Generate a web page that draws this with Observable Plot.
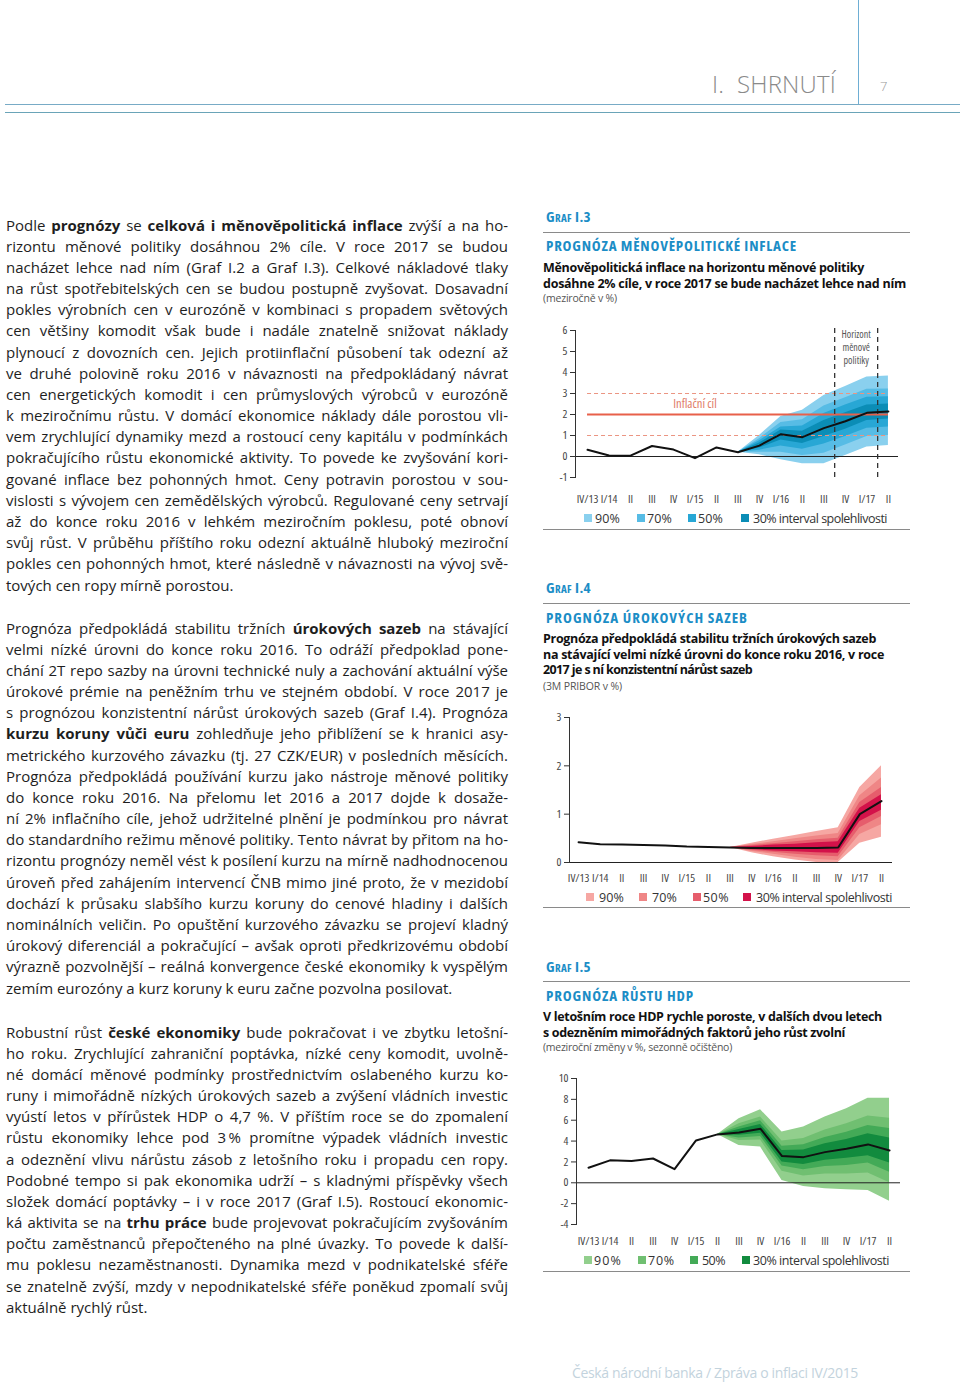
<!DOCTYPE html>
<html lang="cs">
<head>
<meta charset="utf-8">
<script src="https://cdn.jsdelivr.net/npm/d3@7"></script>
<script src="https://cdn.jsdelivr.net/npm/@observablehq/plot@0.6"></script>
<style>
html,body{margin:0;padding:0;background:#fff}
body{width:960px;height:1382px;position:relative;overflow:hidden;font-family:"Open Sans",sans-serif;color:#222}
.t{position:absolute;white-space:nowrap;line-height:1.2;transform:translateY(-50%)}
.line{position:absolute;left:6px;height:21px;line-height:21px;font-size:15px;white-space:nowrap;color:#1e1e1e}
.line b{font-weight:700}
.hr{position:absolute;height:0}
.chart{position:absolute}
.sq{position:absolute;width:8px;height:8px;transform:translateY(-50%)}
</style>
</head>
<body>
<script>
// ---------- DATA ----------
const quarters = ["IV/13","I/14","II","III","IV","I/15","II","III","IV","I/16","II","III","IV","I/17","II"];
const bandLabels = ["90%","70%","50%","30% interval spolehlivosti"];

// Graf I.3 – měnověpolitická inflace
const inflLine = [0.32,0.05,0.04,0.50,0.33,-0.08,0.43,0.20,0.52,1.06,0.92,1.35,1.68,2.08,2.14];
const inflFanX = [7,8,9,10,11,12,13,14];
const inflLo90 = [0.20,0.08,-0.15,-0.35,-0.35,0.05,0.45,0.52];
const inflHi90 = [0.20,1.00,1.90,2.20,2.90,3.33,3.78,3.83];
const inflLo70 = [0.20,0.20,0.20,0.05,0.15,0.55,0.95,1.00];
const inflHi70 = [0.20,0.85,1.62,1.75,2.40,2.80,3.20,3.22];
const inflLo50 = [0.20,0.30,0.50,0.35,0.60,0.95,1.35,1.40];
const inflHi50 = [0.20,0.75,1.40,1.45,2.05,2.45,2.82,2.85];
const inflLo30 = [0.20,0.40,0.78,0.62,0.95,1.30,1.72,1.78];
const inflHi30 = [0.20,0.64,1.26,1.20,1.72,2.08,2.45,2.50];
const inflTarget = [2];
const inflTolerance = [1,3];
const inflHorizon = [11.5,13.5];
const inflTicks = [-1,0,1,2,3,4,5,6];

// Graf I.4 – úrokové sazby (3M PRIBOR)
const rateLine = [0.42,0.38,0.37,0.36,0.35,0.33,0.32,0.31,0.30,0.30,0.30,0.30,0.31,1.00,1.27];
const rateFanX = [7,8,9,10,11,12,13,14];
const rateLo90 = [0.31,0.20,0.12,0.05,0.00,0.00,0.40,0.52];
const rateHi90 = [0.31,0.40,0.48,0.56,0.64,0.72,1.55,2.00];
const rateLo70 = [0.31,0.23,0.17,0.11,0.06,0.04,0.58,0.78];
const rateHi70 = [0.31,0.37,0.43,0.49,0.55,0.60,1.38,1.75];
const rateLo50 = [0.31,0.25,0.21,0.17,0.14,0.12,0.72,0.95];
const rateHi50 = [0.31,0.35,0.39,0.43,0.47,0.50,1.24,1.55];
const rateLo30 = [0.31,0.27,0.24,0.22,0.20,0.19,0.85,1.08];
const rateHi30 = [0.31,0.33,0.36,0.38,0.41,0.43,1.12,1.40];
const rateTicks = [0,1,2,3];

// Graf I.5 – růst HDP
const gdpLine = [1.44,2.15,2.10,2.33,1.31,4.06,4.64,4.83,5.18,2.56,2.46,2.94,3.26,3.68,3.10];
const gdpFanX = [6,7,8,9,10,11,12,13,14];
const gdpLo90 = [4.64,3.58,3.42,0.22,-0.35,-0.58,-0.67,-0.74,-1.76];
const gdpHi90 = [4.64,6.14,7.00,4.86,5.34,6.30,7.10,8.10,8.10];
const gdpLo70 = [4.64,4.05,4.10,1.10,0.65,0.85,0.85,0.95,0.00];
const gdpHi70 = [4.64,5.65,6.30,4.00,4.25,5.05,5.65,6.40,6.20];
const gdpLo50 = [4.64,4.30,4.45,1.60,1.25,1.55,1.65,1.90,1.00];
const gdpHi50 = [4.64,5.35,5.95,3.50,3.65,4.35,4.85,5.50,5.20];
const gdpLo30 = [4.64,4.55,4.75,2.00,1.75,2.15,2.35,2.60,1.90];
const gdpHi30 = [4.64,5.10,5.60,3.10,3.15,3.75,4.15,4.70,4.30];
const gdpTicks = [-4,-2,0,2,4,6,8,10];

// ---------- TEXTS ----------
const headerTitle = "I.&nbsp; SHRNUTÍ";
const pageNumber = "7";
const footerText = "Česká národní banka / Zpráva o inflaci IV/2015";

const chartNumbers = ["Graf I.3","Graf I.4","Graf I.5"];
const chartTitles = ["PROGNÓZA MĚNOVĚPOLITICKÉ INFLACE","PROGNÓZA ÚROKOVÝCH SAZEB","PROGNÓZA RŮSTU HDP"];
const chartSubtitles = [
  ["Měnověpolitická inflace na horizontu měnové politiky","dosáhne 2% cíle, v roce 2017 se bude nacházet lehce nad ním"],
  ["Prognóza předpokládá stabilitu tržních úrokových sazeb","na stávající velmi nízké úrovni do konce roku 2016, v roce","2017 je s ní konzistentní nárůst sazeb"],
  ["V letošním roce HDP rychle poroste, v dalších dvou letech","s odezněním mimořádných faktorů jeho růst zvolní"]
];
const chartUnits = ["(meziročně v %)","(3M PRIBOR v %)","(meziroční změny v %, sezonně očištěno)"];

const para1 = [
"Podle <b>prognózy</b> se <b>celková i měnověpolitická inflace</b> zvýší a na ho-",
"rizontu měnové politiky dosáhnou 2% cíle. V roce 2017 se budou",
"nacházet lehce nad ním (Graf I.2 a Graf I.3). Celkové nákladové tlaky",
"na růst spotřebitelských cen se budou postupně zvyšovat. Dosavadní",
"pokles výrobních cen v eurozóně v kombinaci s propadem světových",
"cen většiny komodit však bude i nadále znatelně snižovat náklady",
"plynoucí z dovozních cen. Jejich protiinflační působení tak odezní až",
"ve druhé polovině roku 2016 v návaznosti na předpokládaný návrat",
"cen energetických komodit i cen průmyslových výrobců v eurozóně",
"k meziročnímu růstu. V domácí ekonomice náklady dále porostou vli-",
"vem zrychlující dynamiky mezd a rostoucí ceny kapitálu v podmínkách",
"pokračujícího růstu ekonomické aktivity. To povede ke zvyšování kori-",
"gované inflace bez pohonných hmot. Ceny potravin porostou v sou-",
"vislosti s vývojem cen zemědělských výrobců. Regulované ceny setrvají",
"až do konce roku 2016 v lehkém meziročním poklesu, poté obnoví",
"svůj růst. V průběhu příštího roku odezní aktuálně hluboký meziroční",
"pokles cen pohonných hmot, které následně v návaznosti na vývoj svě-",
"tových cen ropy mírně porostou."
];
const para2 = [
"Prognóza předpokládá stabilitu tržních <b>úrokových sazeb</b> na stávající",
"velmi nízké úrovni do konce roku 2016. To odráží předpoklad pone-",
"chání 2T repo sazby na úrovni technické nuly a zachování aktuální výše",
"úrokové prémie na peněžním trhu ve stejném období. V roce 2017 je",
"s prognózou konzistentní nárůst úrokových sazeb (Graf I.4). Prognóza",
"<b>kurzu koruny vůči euru</b> zohledňuje jeho přiblížení se k hranici asy-",
"metrického kurzového závazku (tj. 27 CZK/EUR) v posledních měsících.",
"Prognóza předpokládá používání kurzu jako nástroje měnové politiky",
"do konce roku 2016. Na přelomu let 2016 a 2017 dojde k dosaže-",
"ní 2% inflačního cíle, jehož udržitelné plnění je podmínkou pro návrat",
"do standardního režimu měnové politiky. Tento návrat by přitom na ho-",
"rizontu prognózy neměl vést k posílení kurzu na mírně nadhodnocenou",
"úroveň před zahájením intervencí ČNB mimo jiné proto, že v mezidobí",
"dochází k průsaku slabšího kurzu koruny do cenové hladiny i dalších",
"nominálních veličin. Po opuštění kurzového závazku se projeví kladný",
"úrokový diferenciál a pokračující – avšak oproti předkrizovému období",
"výrazně pozvolnější – reálná konvergence české ekonomiky k vyspělým",
"zemím eurozóny a kurz koruny k euru začne pozvolna posilovat."
];
const para3 = [
"Robustní růst <b>české ekonomiky</b> bude pokračovat i ve zbytku letošní-",
"ho roku. Zrychlující zahraniční poptávka, nízké ceny komodit, uvolně-",
"né domácí měnové podmínky prostřednictvím oslabeného kurzu ko-",
"runy i mimořádně nízkých úrokových sazeb a zvýšení vládních investic",
"vyústí letos v přírůstek HDP o 4,7 %. V příštím roce se do zpomalení",
"růstu ekonomiky lehce pod 3\u2009% promítne výpadek vládních investic",
"a odeznění vlivu nárůstu zásob z letošního roku i propadu cen ropy.",
"Podobné tempo si pak ekonomika udrží – s kladnými příspěvky všech",
"složek domácí poptávky – i v roce 2017 (Graf I.5). Rostoucí ekonomic-",
"ká aktivita se na <b>trhu práce</b> bude projevovat pokračujícím zvyšováním",
"počtu zaměstnanců přepočteného na plné úvazky. To povede k další-",
"mu poklesu nezaměstnanosti. Dynamika mezd v podnikatelské sféře",
"se znatelně zvýší, mzdy v nepodnikatelské sféře poněkud zpomalí svůj",
"aktuálně rychlý růst."
];

// ---------- COLOURS ----------
const inflColors = ["#8ad0ee","#57bce5","#28a7d5","#0b8db6"];
const rateColors = ["#f6a7a3","#ef8686","#e65d6c","#d3124a"];
const gdpColors  = ["#92cf8d","#70bf71","#43aa57","#128b3e"];
const headBlue = "#1b8dc6";

// ---------- HELPERS ----------
const body = document.body;
function addText(html, o) {
  const d = document.createElement("div");
  d.className = "t";
  d.innerHTML = html;
  d.style.left = o.x + "px";
  d.style.top = o.y + "px";
  d.style.fontSize = (o.size || 12) + "px";
  if (o.weight) d.style.fontWeight = o.weight;
  if (o.color) d.style.color = o.color;
  if (o.variant) d.style.fontVariant = o.variant;
  if (o.w) d.dataset.w = o.w;
  body.appendChild(d);
  return d;
}
function addRule(x1, x2, y, color, th) {
  const d = document.createElement("div");
  d.className = "hr";
  d.style.left = x1 + "px"; d.style.width = (x2 - x1) + "px";
  d.style.top = (y - th / 2) + "px";
  d.style.borderTop = th + "px solid " + color;
  body.appendChild(d);
}
function addVRule(x, y1, y2, color, th) {
  const d = document.createElement("div");
  d.style.position = "absolute";
  d.style.left = (x - th / 2) + "px"; d.style.top = y1 + "px";
  d.style.height = (y2 - y1) + "px"; d.style.borderLeft = th + "px solid " + color;
  body.appendChild(d);
}
function addParagraph(lines, y0, step) {
  lines.forEach((l, i) => {
    const d = document.createElement("div");
    d.className = "line";
    d.innerHTML = l;
    d.style.top = (y0 + i * step - 10.5) + "px";
    if (i < lines.length - 1) d.dataset.j = 502;
    body.appendChild(d);
  });
}

// ---------- HEADER / FOOTER ----------
addVRule(859, 0, 104, "#6eaed4", 1.5);
addRule(5, 960, 104.5, "#78abc6", 1.5);
addRule(5, 960, 113, "#6aa4b8", 1.5);
addText(headerTitle, {x: 712, y: 84, size: 24, weight: 300, color: "#8a8a8a", w: 124});
addText(pageNumber, {x: 880, y: 87, size: 13, weight: 300, color: "#999"});
addText(footerText, {x: 572, y: 1373, size: 14, color: "#c3d3dd", w: 286});

// ---------- BODY TEXT ----------
addParagraph(para1, 225, 21.18);
addParagraph(para2, 628, 21.18);
addParagraph(para3, 1032, 21.18);

// ---------- CHART HEADINGS ----------
const headLayout = [
  {num: 216, top: 233, title: 245, titleW: 251, subs: [267, 283], subW: [321, 363], unit: 298, unitW: 74, bottom: 530},
  {num: 587, top: 604, title: 617, titleW: 202, subs: [638, 654, 669], subW: [333, 341, 209], unit: 686, unitW: 79, bottom: 908},
  {num: 966, top: 982, title: 995, titleW: 148, subs: [1016, 1032], subW: [339, 302], unit: 1047, unitW: 189, bottom: 1272}
];
headLayout.forEach((h, k) => {
  addText(chartNumbers[k], {x: 546, y: h.num, size: 15, weight: 700, color: headBlue, variant: "small-caps", w: 45});
  addRule(543, 910, h.top, "#8a8a8a", 1.5);
  addText(chartTitles[k], {x: 546, y: h.title, size: 15, weight: 700, color: headBlue, w: h.titleW});
  chartSubtitles[k].forEach((s, i) => addText(s, {x: 543, y: h.subs[i], size: 12.5, weight: 700, color: "#111", w: h.subW[i]}));
  addText(chartUnits[k], {x: 543, y: h.unit, size: 10.5, color: "#555", w: h.unitW});
  addRule(543, 910, h.bottom, "#8a8a8a", 1.5);
});

// ---------- LEGENDS ----------
function addLegend(y, sqX, txX, txW, colors) {
  bandLabels.forEach((lab, i) => {
    const s = document.createElement("div");
    s.className = "sq";
    s.style.left = sqX[i] + "px"; s.style.top = y + "px"; s.style.background = colors[i];
    body.appendChild(s);
    addText(lab, {x: txX[i], y: y, size: 12.5, color: "#333", w: txW[i]});
  });
}
addLegend(518, [584, 637, 688, 741], [595, 647, 698, 753], [25, 25, 25, 134], inflColors);
addLegend(897, [586, 639, 693, 743], [599, 652, 703, 756], [25, 25, 26, 136], rateColors);
addLegend(1260, [584, 638, 690, 742], [594, 648, 702, 753], [28, 27, 23, 136], gdpColors);

// ---------- CHARTS ----------
function fanChart(o) {
  const bands = [[o.lo[0], o.hi[0]], [o.lo[1], o.hi[1]], [o.lo[2], o.hi[2]], [o.lo[3], o.hi[3]]];
  const areas = bands.map((b, k) => Plot.areaY(
    o.fanX.map((x, i) => ({x, lo: b[0][i], hi: b[1][i]})),
    {x: "x", y1: "lo", y2: "hi", fill: o.colors[k]}
  ));
  const plot = Plot.plot({
    width: o.width, height: o.height,
    marginTop: o.mt, marginRight: o.mr, marginBottom: o.mb, marginLeft: o.ml,
    x: {domain: o.xDomain, label: null},
    y: {domain: o.yDomain, label: null},
    style: {background: "none", fontFamily: "'Open Sans', sans-serif", fontSize: "11px", fontStretch: "85%", color: "#444", overflow: "visible"},
    marks: [
      ...areas,
      Plot.ruleY([0], {stroke: "#222", strokeWidth: 1}),
      ...(o.extras || []),
      Plot.lineY(o.line, {x: (d, i) => i, y: d => d, stroke: "#111", strokeWidth: 2, strokeLinejoin: "round"}),
      Plot.frame({anchor: "left", stroke: "#333", strokeWidth: 1}),
      Plot.axisY({ticks: o.yTicks, tickFormat: d => String(d), tickSize: 5, tickPadding: 3, fontSize: 11.5, fill: "#444", stroke: "#333", label: null}),
      Plot.axisX({ticks: d3.range(quarters.length), tickFormat: i => quarters[i], tickSize: 0, tickPadding: o.xPad, fontSize: 11.5, fill: "#444", label: null})
    ]
  });
  const wrap = document.createElement("div");
  wrap.className = "chart";
  wrap.style.left = o.left + "px"; wrap.style.top = o.top + "px";
  wrap.appendChild(plot);
  body.appendChild(wrap);
}

fanChart({
  left: 540, top: 315, width: 380, height: 195, mt: 15, mr: 22, mb: 33, ml: 35, xPad: 17,
  xDomain: [-0.56, 14.47], yDomain: [-1, 6], yTicks: inflTicks,
  line: inflLine, fanX: inflFanX, colors: inflColors,
  lo: [inflLo90, inflLo70, inflLo50, inflLo30], hi: [inflHi90, inflHi70, inflHi50, inflHi30],
  extras: [
    Plot.ruleY(inflTolerance, {x1: 0, x2: 14, stroke: "#eb9582", strokeWidth: 1.2, strokeDasharray: "4,3"}),
    Plot.ruleY(inflTarget, {x1: 0, x2: 14, stroke: "#e8604a", strokeWidth: 1.8}),
    Plot.text(["Inflační cíl"], {x: 5, y: 2.52, fill: "#e07b68", fontSize: 12.5}),
    Plot.ruleX(inflHorizon, {y1: -1, y2: 6.1, stroke: "#333", strokeWidth: 1.3, strokeDasharray: "5,4"}),
    Plot.text(["Horizont\nměnové\npolitiky"], {x: 12.5, y: 6.1, lineAnchor: "top", fill: "#555", fontSize: 10, lineHeight: 1.3})
  ]
});

fanChart({
  left: 540, top: 702, width: 380, height: 190, mt: 15, mr: 28, mb: 30, ml: 29, xPad: 11,
  xDomain: [-0.42, 14.51], yDomain: [0, 3], yTicks: rateTicks,
  line: rateLine, fanX: rateFanX, colors: rateColors,
  lo: [rateLo90, rateLo70, rateLo50, rateLo30], hi: [rateHi90, rateHi70, rateHi50, rateHi30]
});

fanChart({
  left: 540, top: 1064, width: 380, height: 190, mt: 14, mr: 20, mb: 30, ml: 36, xPad: 12,
  xDomain: [-0.56, 14.51], yDomain: [-4, 10], yTicks: gdpTicks,
  line: gdpLine, fanX: gdpFanX, colors: gdpColors,
  lo: [gdpLo90, gdpLo70, gdpLo50, gdpLo30], hi: [gdpHi90, gdpHi70, gdpHi50, gdpHi30]
});

// ---------- FITTING ----------
function fitAll() {
  document.querySelectorAll("[data-w]").forEach(el => {
    const target = +el.dataset.w;
    const n = el.textContent.length;
    el.style.letterSpacing = "0px";
    el.style.fontStretch = "100%";
    let w = el.getBoundingClientRect().width;
    const s = Math.max(75, Math.min(100, 100 * target / w));
    el.style.fontStretch = s + "%";
    w = el.getBoundingClientRect().width;
    el.style.letterSpacing = ((target - w) / n) + "px";
  });
  document.querySelectorAll("[data-j]").forEach(el => {
    const target = +el.dataset.j;
    el.style.wordSpacing = "0px"; el.style.letterSpacing = "0px";
    let w = el.getBoundingClientRect().width;
    const spaces = (el.textContent.match(/ /g) || []).length || 1;
    let ws = (target - w) / spaces;
    if (ws < -1.2) {
      const ls = (target - w + 1.2 * spaces) / el.textContent.length;
      el.style.letterSpacing = ls + "px";
      w = el.getBoundingClientRect().width;
      ws = (target - w) / spaces;
    }
    el.style.wordSpacing = ws + "px";
  });
}
fitAll();
if (document.fonts && document.fonts.ready) document.fonts.ready.then(fitAll);
</script>
</body>
</html>
